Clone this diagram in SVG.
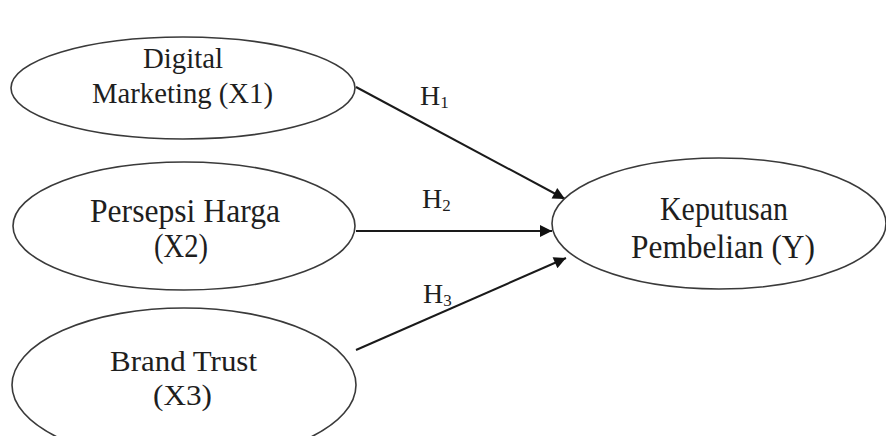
<svg xmlns="http://www.w3.org/2000/svg" width="886" height="436" viewBox="0 0 886 436">
<style>
  .node ellipse { fill: #ffffff; stroke: #3a3a3a; stroke-width: 1.6; }
  .lbl { font-family: "Liberation Serif", "Times New Roman", serif; font-size: 33px; fill: #1e1e1e; text-anchor: middle; }
  .h { font-family: "Liberation Serif", "Times New Roman", serif; font-size: 28px; fill: #1e1e1e; }
  .sub { font-size: 17px; }
  .edge { stroke: #1a1a1a; stroke-width: 2; fill: none; marker-end: url(#arr); }
</style>
<defs>
  <marker id="arr" viewBox="0 0 10 10" refX="10" refY="5" markerWidth="7.5" markerHeight="6" markerUnits="strokeWidth" orient="auto">
    <path d="M0,0 L10,5 L0,10 z" fill="#111111"/>
  </marker>
</defs>
<rect width="886" height="436" fill="#ffffff"/>
<g id="connectors">
  <line class="edge" x1="356" y1="87" x2="565" y2="199"/>
  <line class="edge" x1="356" y1="231" x2="552" y2="231"/>
  <line class="edge" x1="356" y1="350" x2="566" y2="258"/>
</g>
<g id="labels">
  <text class="h" x="420" y="105">H<tspan class="sub" dy="3">1</tspan></text>
  <text class="h" x="422" y="208">H<tspan class="sub" dy="3">2</tspan></text>
  <text class="h" x="423" y="303">H<tspan class="sub" dy="3">3</tspan></text>
</g>
<g id="x1" class="node">
  <ellipse cx="183" cy="88" rx="172" ry="51"/>
  <text class="lbl" style="font-size:30px" x="183" y="68" textLength="80" lengthAdjust="spacingAndGlyphs">Digital</text>
  <text class="lbl" style="font-size:30px" x="182.5" y="103" textLength="181" lengthAdjust="spacingAndGlyphs">Marketing (X1)</text>
</g>
<g id="x2" class="node">
  <ellipse cx="184" cy="226" rx="171" ry="64"/>
  <text class="lbl" x="185" y="222" textLength="190" lengthAdjust="spacingAndGlyphs">Persepsi Harga</text>
  <text class="lbl" x="181" y="257" textLength="54" lengthAdjust="spacingAndGlyphs">(X2)</text>
</g>
<g id="x3" class="node">
  <ellipse cx="184" cy="385" rx="172" ry="77"/>
  <text class="lbl" style="font-size:30px" x="183.5" y="371" textLength="147" lengthAdjust="spacingAndGlyphs">Brand Trust</text>
  <text class="lbl" style="font-size:30px" x="182.5" y="405" textLength="59" lengthAdjust="spacingAndGlyphs">(X3)</text>
</g>
<g id="y" class="node">
  <ellipse cx="719" cy="223.5" rx="167" ry="65.5"/>
  <text class="lbl" x="724" y="220" textLength="128" lengthAdjust="spacingAndGlyphs">Keputusan</text>
  <text class="lbl" x="723" y="258" textLength="184" lengthAdjust="spacingAndGlyphs">Pembelian (Y)</text>
</g>
</svg>
